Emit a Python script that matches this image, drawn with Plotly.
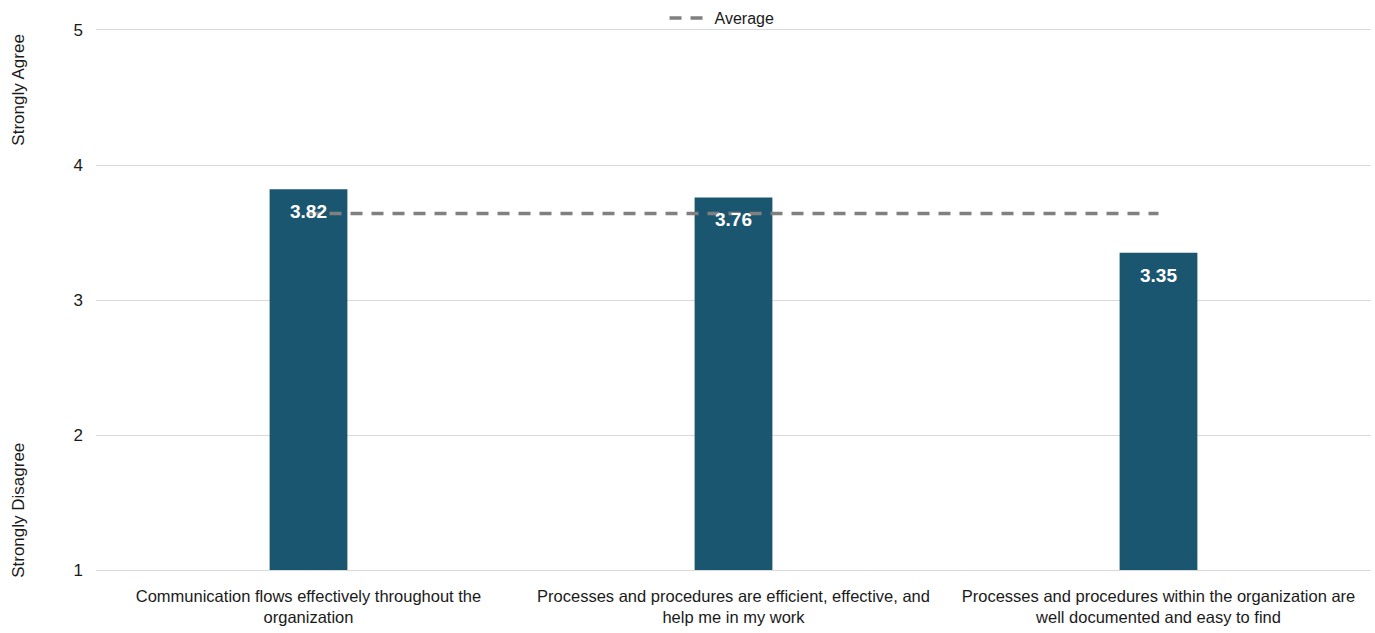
import plotly.graph_objects as go

categories = [
    "Communication flows effectively throughout the<br>organization",
    "Processes and procedures are efficient, effective, and<br>help me in my work",
    "Processes and procedures within the organization are<br>well documented and easy to find",
]
scores = [3.82, 3.76, 3.35]
average = round(sum(scores) / len(scores), 2)
avg_values = [average] * len(categories)
y_ticks = [1, 2, 3, 4, 5]

FONT = "Liberation Sans, Arial, sans-serif"
BAR = "#1B5670"
TXT = "#1a1a1a"

fig = go.Figure()
fig.add_trace(go.Bar(
    x=categories, y=[s - 1 for s in scores], base=1,
    marker=dict(color=BAR, line=dict(width=0)),
    showlegend=False, hoverinfo="skip",
))
fig.add_trace(go.Scatter(
    x=categories, y=avg_values, mode="lines", name="Average",
    line=dict(color="#808080", width=3.5, dash="12px,9px"),
))

for c, s in zip(categories, scores):
    fig.add_annotation(
        x=c, y=s, yanchor="top", yshift=-10, showarrow=False,
        text=f"<b>{s:.2f}</b>", font=dict(family=FONT, size=19, color="white"),
    )

fig.add_annotation(xref="paper", yref="paper", x=-0.061, y=0.89, text="Strongly Agree",
                   textangle=-90, showarrow=False, xanchor="center", yanchor="middle",
                   font=dict(family=FONT, size=17, color=TXT))
fig.add_annotation(xref="paper", yref="paper", x=-0.061, y=0.11, text="Strongly Disagree",
                   textangle=-90, showarrow=False, xanchor="center", yanchor="middle",
                   font=dict(family=FONT, size=17, color=TXT))

fig.update_layout(
    width=1375, height=633,
    margin=dict(l=96, r=4, t=30, b=63, autoexpand=False),
    plot_bgcolor="white", paper_bgcolor="white",
    bargap=0.817,
    font=dict(family=FONT, size=17, color=TXT),
    legend=dict(orientation="h", x=0.491, xanchor="center",
                yref="container", y=1 - 18 / 633, yanchor="middle",
                font=dict(family=FONT, size=16, color=TXT), itemwidth=40,
                bgcolor="rgba(0,0,0,0)"),
    xaxis=dict(showgrid=False, showline=True, mirror=True, linecolor="#d9d9d9", linewidth=1,
               ticks="", ticklabelstandoff=11, tickfont=dict(size=16.5), automargin=False),
    yaxis=dict(range=[1, 5], tickvals=y_ticks, showgrid=True, gridcolor="#d9d9d9",
               gridwidth=1, zeroline=False, showline=False, ticks="", ticklen=0,
               ticklabelstandoff=12, tickfont=dict(size=17), automargin=False),
)

fig.write_html("out.html", post_script="document.body.style.margin='0';",
               config={"displayModeBar": False})
